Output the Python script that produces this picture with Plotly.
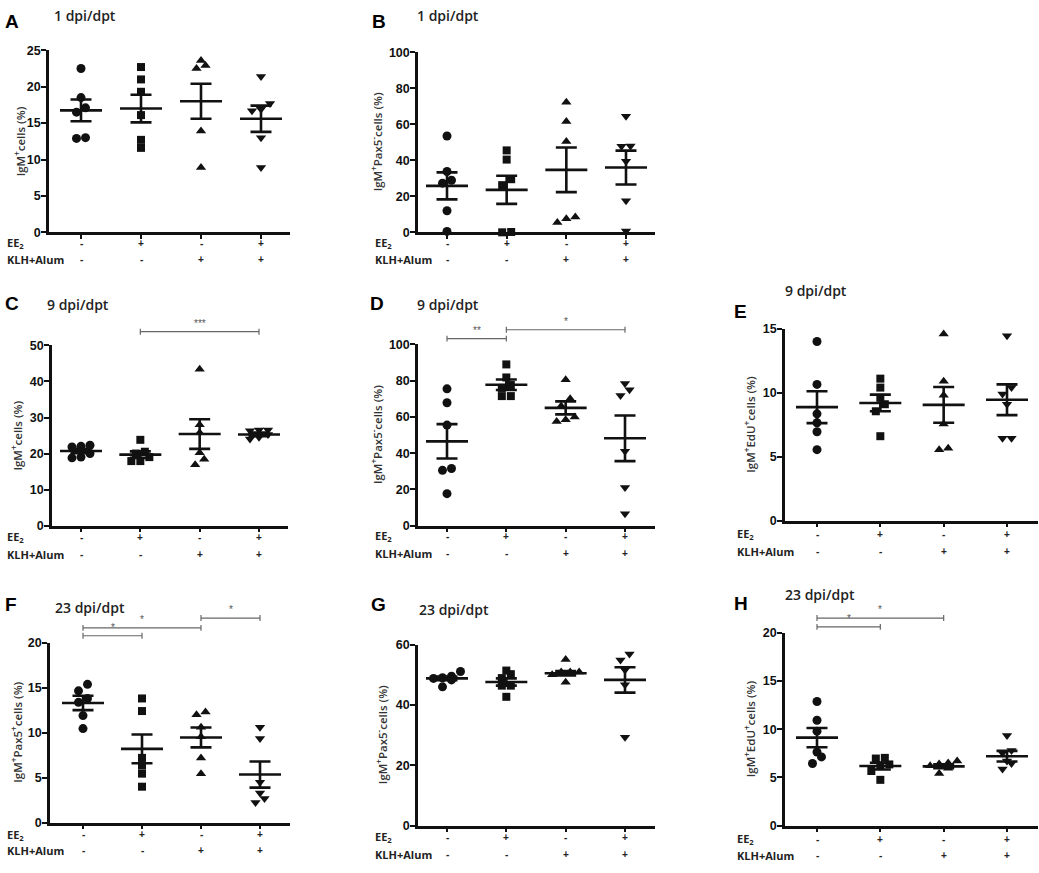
import plotly.graph_objects as go

W, H = 1039, 873

# x categories (treatment groups)
ee2_signs = ["-", "+", "-", "+"]
klh_signs = ["-", "-", "+", "+"]
symbols = ["circle", "square", "triangle-up", "triangle-down"]

# values, one list per group
a_vals = [[22.5, 18.5, 17.1, 16.5, 12.9, 13.0],
          [22.7, 21.0, 19.3, 16.1, 12.7, 11.6],
          [22.9, 22.5, 23.6, 13.9, 8.9],
          [21.4, 17.7, 16.9, 16.7, 13.0, 8.9]]
a_mean = [16.75, 17.0, 18.0, 15.6]
a_sem = [1.5, 1.9, 2.4, 1.8]

b_vals = [[53.5, 33.8, 28.9, 27.3, 12.0, 0.5],
          [45.5, 40.4, 29.5, 26.2, 0.0, 0.2],
          [72.2, 61.6, 50.4, 8.5, 5.5, 7.6],
          [64.5, 48.0, 47.8, 39.5, 17.6, 0.7]]
b_mean = [25.8, 23.6, 34.7, 36.0]
b_sem = [7.5, 7.8, 12.4, 9.4]

c_vals = [[22.3, 22.0, 21.8, 20.0, 19.0, 18.8],
          [23.8, 20.5, 20.0, 19.0, 17.9, 17.9],
          [43.4, 28.0, 25.8, 20.2, 16.9, 18.4],
          [26.5, 26.5, 26.3, 25.3, 24.5, 24.0]]
c_mean = [20.7, 19.7, 25.4, 25.3]
c_sem = [0.6, 0.9, 4.1, 0.5]

d_vals = [[75.5, 67.8, 55.5, 31.5, 30.5, 17.6],
          [89.0, 81.8, 76.0, 77.6, 71.5, 71.5],
          [80.5, 70.0, 66.0, 60.0, 58.5, 57.5],
          [78.5, 75.0, 71.8, 41.0, 21.0, 6.5]]
d_mean = [46.5, 77.8, 65.0, 48.2]
d_sem = [9.5, 2.9, 3.6, 12.6]

e_vals = [[14.0, 10.65, 8.35, 7.65, 6.95, 5.55],
          [11.1, 10.4, 9.6, 9.1, 8.55, 6.6],
          [14.6, 10.9, 9.8, 7.55, 5.55, 5.65],
          [14.45, 10.4, 9.9, 9.1, 6.45, 6.45]]
e_mean = [8.87, 9.2, 9.05, 9.45]
e_sem = [1.25, 0.65, 1.4, 1.2]

f_vals = [[15.37, 14.65, 13.8, 13.37, 11.9, 10.45],
          [13.8, 12.4, 7.2, 6.35, 5.45, 4.0],
          [12.3, 12.0, 10.6, 9.55, 7.2, 5.45],
          [10.6, 9.36, 4.5, 3.3, 2.25, 2.7]]
f_mean = [13.3, 8.2, 9.47, 5.35]
f_sem = [0.8, 1.6, 1.1, 1.45]

g_vals = [[51.1, 49.5, 49.0, 48.8, 48.3, 46.0],
          [51.4, 50.2, 48.9, 46.4, 46.4, 42.7],
          [55.1, 50.9, 50.9, 50.9, 50.0, 47.5],
          [56.9, 54.9, 51.6, 46.7, 29.3]]
g_mean = [48.8, 47.6, 50.5, 48.3]
g_sem = [0.6, 1.2, 0.7, 4.2]

h_vals = [[12.87, 10.93, 9.8, 7.64, 7.13, 6.45],
          [7.03, 6.96, 6.35, 6.25, 5.67, 4.75],
          [6.7, 6.5, 6.4, 6.2, 5.95, 5.4],
          [9.34, 7.8, 7.54, 6.7, 6.45, 5.87]]
h_mean = [9.13, 6.18, 6.15, 7.2]
h_sem = [1.0, 0.35, 0.2, 0.55]

# significance: (group i, group j, label)
c_sig = [(2, 4, "***")]
d_sig = [(1, 2, "**"), (2, 4, "*")]
f_sig = [(1, 2, "*"), (1, 3, "*"), (3, 4, "*")]
h_sig = [(1, 2, "*"), (1, 3, "*")]

ytitle_pax_neg = "IgM<sup>+</sup>Pax5<sup>-</sup>cells (%)"
ytitle_edu = "IgM<sup>+</sup>EdU<sup>+</sup>cells (%)"

# layout in pixels: box = (x axis left, x axis right, y top, y bottom), cats = (px of group 1, px of group 4)
panels = [
    dict(letter="A", title="1 dpi/dpt", ytitle="IgM<sup>+</sup>cells (%)", vals=a_vals, mean=a_mean, sem=a_sem,
         ymax=25, dtick=5, box=(49, 290, 44, 229), cats=(81, 261), letter_xy=(3, 15), title_xy=(52, 9),
         ytitle_x=19, rows_x=5, rows_y=(240, 257), sig=[], sig_y=[]),
    dict(letter="B", title="1 dpi/dpt", ytitle=ytitle_pax_neg, vals=b_vals, mean=b_mean, sem=b_sem,
         ymax=100, dtick=20, box=(418, 655, 46, 229), cats=(447, 626), letter_xy=(370, 15), title_xy=(415, 9),
         ytitle_x=376, rows_x=373, rows_y=(240, 257), sig=[], sig_y=[]),
    dict(letter="C", title="9 dpi/dpt", ytitle="IgM<sup>+</sup>cells (%)", vals=c_vals, mean=c_mean, sem=c_sem,
         ymax=50, dtick=10, box=(52, 288, 344, 527), cats=(81, 259), letter_xy=(3, 301), title_xy=(45, 302),
         ytitle_x=17, rows_x=5, rows_y=(539, 556), sig=c_sig, sig_y=[330]),
    dict(letter="D", title="9 dpi/dpt", ytitle=ytitle_pax_neg, vals=d_vals, mean=d_mean, sem=d_sem,
         ymax=100, dtick=20, box=(418, 655, 343, 527), cats=(447, 625), letter_xy=(368, 301), title_xy=(415, 302),
         ytitle_x=376, rows_x=373, rows_y=(538, 555), sig=d_sig, sig_y=[337, 328]),
    dict(letter="E", title="9 dpi/dpt", ytitle=ytitle_edu, vals=e_vals, mean=e_mean, sem=e_sem,
         ymax=15, dtick=5, box=(785, 1038, 327, 522), cats=(817, 1007), letter_xy=(732, 309), title_xy=(783, 288),
         ytitle_x=750, rows_x=735, rows_y=(536, 553), sig=[], sig_y=[]),
    dict(letter="F", title="23 dpi/dpt", ytitle="IgM<sup>+</sup>Pax5<sup>+</sup>cells (%)", vals=f_vals, mean=f_mean, sem=f_sem,
         ymax=20, dtick=5, box=(50, 290, 646, 829), cats=(83, 260), letter_xy=(3, 607), title_xy=(53, 610),
         ytitle_x=17, rows_x=5, rows_y=(841, 857), sig=f_sig, sig_y=[639, 631, 621]),
    dict(letter="G", title="23 dpi/dpt", ytitle=ytitle_pax_neg, vals=g_vals, mean=g_mean, sem=g_sem,
         ymax=60, dtick=20, box=(418, 655, 648, 832), cats=(447, 625), letter_xy=(369, 607), title_xy=(417, 612),
         ytitle_x=381, rows_x=373, rows_y=(844, 861), sig=[], sig_y=[]),
    dict(letter="H", title="23 dpi/dpt", ytitle=ytitle_edu, vals=h_vals, mean=h_mean, sem=h_sem,
         ymax=20, dtick=5, box=(785, 1038, 636, 832), cats=(817, 1007), letter_xy=(732, 606), title_xy=(783, 597),
         ytitle_x=749, rows_x=735, rows_y=(846, 862), sig=h_sig, sig_y=[630, 621]),
]

INK = "#111111"
LABEL = "#222222"


def pxx(p):
    return p / W


def pxy(p):
    return 1 - p / H


def spread(vals, ppu_y, ppu_x, d=9.0):
    # GraphPad-like side by side placement of points with close values
    order = sorted(range(len(vals)), key=lambda i: vals[i])
    offs = [0.0] * len(vals)
    rows = []
    for i in order:
        if rows and (vals[i] - vals[rows[-1][0]]) * ppu_y < d * 0.85:
            rows[-1].append(i)
        else:
            rows.append([i])
    for row in rows:
        n = len(row)
        for k, i in enumerate(row):
            offs[i] = (k - (n - 1) / 2) * d / ppu_x
    return offs


fig = go.Figure()
annotations = []
shapes = []
layout_axes = {}

for n, p in enumerate(panels, start=1):
    xl, xr, yt, yb = p["box"]
    c1, c4 = p["cats"]
    ppu_x = (c4 - c1) / 3
    ppu_y = (yb - yt) / p["ymax"]
    xa = "x" if n == 1 else "x%d" % n
    ya = "y" if n == 1 else "y%d" % n

    # points
    for g, vals in enumerate(p["vals"]):
        offs = spread(vals, ppu_y, ppu_x)
        fig.add_trace(go.Scatter(
            x=[g + 1 + o for o in offs], y=vals, mode="markers", xaxis=xa, yaxis=ya,
            cliponaxis=False, hoverinfo="y",
            marker=dict(symbol=symbols[g], size=8 if g == 1 else 9, color=INK, line=dict(width=0))))

    # mean +/- SEM
    mh = 21 / ppu_x
    ch = 10.5 / ppu_x
    lx, ly = [], []
    for g, (m, s) in enumerate(zip(p["mean"], p["sem"])):
        c = g + 1
        lx += [c - mh, c + mh, None, c, c, None, c - ch, c + ch, None, c - ch, c + ch, None]
        ly += [m, m, None, m - s, m + s, None, m + s, m + s, None, m - s, m - s, None]
    fig.add_trace(go.Scatter(x=lx, y=ly, mode="lines", xaxis=xa, yaxis=ya, cliponaxis=False,
                             hoverinfo="skip", line=dict(color=INK, width=2.6)))

    xmin = 1 - (c1 - xl) / ppu_x
    xmax = 4 + (xr - c4) / ppu_x
    layout_axes["xaxis" if n == 1 else "xaxis%d" % n] = dict(
        domain=[pxx(xl), pxx(xr)], range=[xmin, xmax], anchor=ya,
        showline=True, linecolor=INK, linewidth=2.5, ticks="outside", tickvals=[1, 2, 3, 4],
        ticklen=4, tickwidth=2, tickcolor=INK, showticklabels=False,
        showgrid=False, zeroline=False, fixedrange=True)
    layout_axes["yaxis" if n == 1 else "yaxis%d" % n] = dict(
        domain=[pxy(yb), pxy(yt)], range=[0, p["ymax"]], anchor=xa,
        showline=True, linecolor=INK, linewidth=2.5, ticks="outside", dtick=p["dtick"], tick0=0,
        ticklen=5, tickwidth=2, tickcolor=INK, ticklabelstandoff=-2,
        tickfont=dict(family="Liberation Sans", size=12.5, color="#111", weight="bold"),
        showgrid=False, zeroline=False, fixedrange=True)

    # panel letter, title, y title
    lx0, ly0 = p["letter_xy"]
    annotations.append(dict(text="<b>%s</b>" % p["letter"], x=pxx(lx0), y=pxy(ly0), xref="paper", yref="paper",
                            xanchor="left", yanchor="middle", showarrow=False,
                            font=dict(family="Liberation Sans", size=19, color="#000")))
    tx, ty = p["title_xy"]
    annotations.append(dict(text=p["title"], x=pxx(tx), y=pxy(ty), xref="paper", yref="paper",
                            xanchor="left", yanchor="middle", showarrow=False,
                            font=dict(family="Open Sans", size=14, color="#222", weight=600)))
    annotations.append(dict(text=p["ytitle"], x=pxx(p["ytitle_x"]), y=pxy((yt + yb) / 2), xref="paper", yref="paper",
                            xanchor="center", yanchor="middle", textangle=-90, showarrow=False,
                            font=dict(family="Open Sans", size=11.5, color="#333", weight=600)))

    # EE2 / KLH+Alum rows
    r1, r2 = p["rows_y"]
    annotations.append(dict(text="EE<sub>2</sub>", x=pxx(p["rows_x"]), y=pxy(r1), xref="paper", yref="paper",
                            xanchor="left", yanchor="middle", showarrow=False,
                            font=dict(family="Open Sans", size=11, color=LABEL, weight="bold")))
    annotations.append(dict(text="KLH+Alum", x=pxx(p["rows_x"]), y=pxy(r2), xref="paper", yref="paper",
                            xanchor="left", yanchor="middle", showarrow=False,
                            font=dict(family="Open Sans", size=11, color=LABEL, weight="bold")))
    for g in range(4):
        for sign, ry in ((ee2_signs[g], r1), (klh_signs[g], r2)):
            annotations.append(dict(text=sign, x=g + 1, y=pxy(ry), xref=xa, yref="paper",
                                    xanchor="center", yanchor="middle", showarrow=False,
                                    font=dict(family="Liberation Sans", size=10, color=LABEL, weight="bold")))

    # significance brackets
    for (i, j, lab), sy in zip(p["sig"], p["sig_y"]):
        shapes.append(dict(type="line", xref=xa, yref="paper", x0=i, x1=j, y0=pxy(sy), y1=pxy(sy),
                           line=dict(color="#666", width=1.2)))
        for c in (i, j):
            shapes.append(dict(type="line", xref=xa, yref="paper", x0=c, x1=c, y0=pxy(sy - 3), y1=pxy(sy + 3),
                               line=dict(color="#666", width=1.2)))
        annotations.append(dict(text=lab, x=(i + j) / 2, y=pxy(sy - 1), xref=xa, yref="paper",
                                xanchor="center", yanchor="bottom", showarrow=False,
                                font=dict(family="Liberation Sans", size=10, color="#555")))

fig.update_layout(
    width=W, height=H, margin=dict(l=0, r=0, t=0, b=0),
    paper_bgcolor="white", plot_bgcolor="white", showlegend=False,
    annotations=annotations, shapes=shapes, **layout_axes)

# no page margin so the figure fills the window exactly
fig.write_html("out.html", config={"displayModeBar": False},
               post_script="document.body.style.margin='0';")
